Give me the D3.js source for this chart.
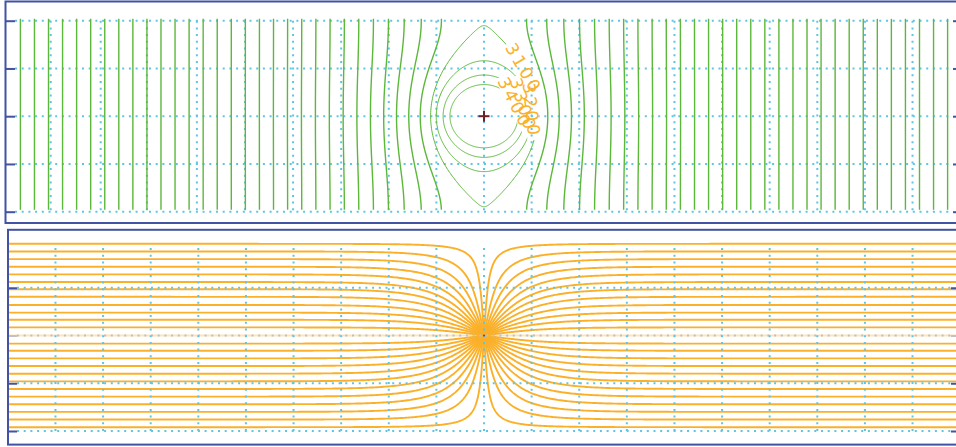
<!DOCTYPE html>
<html>
<head>
<meta charset="utf-8">
<script src="https://cdn.jsdelivr.net/npm/d3@7"></script>
<style>
  body { margin: 0; background: #fff; }
  svg { display: block; }
</style>
</head>
<body>
<svg id="chart"></svg>
<script>
'use strict';

const WIDTH = 956;
const HEIGHT = 447;

// plan view: cell lines (model units, well at 0,0)
const PLAN_ROWS = [-2, -1, 0, 1, 2];
const PLAN_COLS = [-9.1, -8.05, -7.08, -6.03, -5.02, -4.01, -3, -2, -1, 0, 1, 2, 3, 4, 5, 6, 7, 8, 9];

// cross section: layer bottoms and columns
const SECT_LAYERS = [1, 2, 3, 4];
const SECT_COLS = [-9, -8, -7, -6, -5, -4, -3, -2, -1, 0, 1, 2, 3, 4, 5, 6, 7, 8, 9];

// head contour levels (plan view) and the labelled ones
const HEAD_LEVELS = [100, 200, 300, 400, 500, 600, 700, 800, 900, 1000,
  1100, 1200, 1300, 1400, 1500, 1600, 1700, 1800, 1900, 2000,
  2100, 2200, 2300, 2400, 2500, 2600, 2700, 2800, 2900, 3000,
  3100, 3200, 3300, 3400];
const LABEL_LEVELS = [3100, 3200, 3300, 3400];
const LABEL_Y = [1.0, 0.12, 0.24, 0.28];

// depth at which each pathline enters at the model edge
const PATH_DEPTHS = [0.08, 0.24, 0.40, 0.56, 0.72, 0.88, 1.03, 1.19, 1.36, 1.52, 1.67, 1.83,
  2.17, 2.32, 2.48, 2.64, 2.80, 2.96, 3.12, 3.28, 3.44, 3.60, 3.76, 3.92];
const CENTER_PATH_DEPTH = 2;

const WELL = { x: 0, y: 0, depth: 2 };

// fitted head field: h = HEAD_REF - HEAD_STEP * ln|sinh(pi z / 2b)|
const PLAN_HALF = 2;
const SECT_HALF = 2;
const HEAD_REF = 3098.6;
const HEAD_STEP = 431.2;
const OVAL_STRETCH = 0.23;   // closed contours read a little wider than tall

const BLUE = '#4153a2';
const GRID = '#5ec6e4';
const GREEN = '#5cb83a';
const ORANGE = '#fbb02a';

const svg = d3.select('#chart')
  .attr('width', WIDTH)
  .attr('height', HEIGHT)
  .attr('viewBox', `0 0 ${WIDTH} ${HEIGHT}`);

const x = d3.scaleLinear().domain([-9.85, 9.85]).range([15, 953]);
const yPlan = d3.scaleLinear().domain([-2, 2]).range([211.7, 20.7]);
const ySect = d3.scaleLinear().domain([0, 4]).range([240, 431]);

const line = d3.line();

function levelC(level) {
  return Math.exp(2 * (HEAD_REF - level) / HEAD_STEP);
}

function planX(level, yy) {
  const k = Math.PI / (2 * PLAN_HALF);
  const c = levelC(level);
  const u = Math.asinh(Math.sqrt(Math.max(0, c - Math.sin(k * yy) ** 2))) / k;
  return c < 1 ? u * (1 + OVAL_STRETCH * (1 - c)) : u;
}

function headContour(level) {
  const k = Math.PI / (2 * PLAN_HALF);
  const c = levelC(level);
  if (c >= 1) {
    const ys = d3.range(-1.96, 2.041, 0.04);
    return [
      ys.map(yy => [planX(level, yy), yy]),
      ys.map(yy => [-planX(level, yy), yy]),
    ];
  }
  const vMax = Math.asin(Math.sqrt(c)) / k;
  const ts = d3.range(0, 161).map(i => -Math.PI / 2 + Math.PI * i / 160);
  const right = ts.map(t => {
    const yy = vMax * Math.sin(t);
    return [planX(level, yy), yy];
  });
  const left = right.slice().reverse().map(([a, b]) => [-a, b]);
  return [right.concat(left)];
}

function pathline(depth) {
  const k = Math.PI / (2 * SECT_HALF);
  const tanT = Math.tan(k * (WELL.depth - depth));
  return d3.range(-1, 1.0001, 0.004).map(t => {
    const xx = 10.2 * t * t * t;
    const off = Math.atan(Math.tanh(k * Math.abs(xx)) * tanT) / k;
    return [xx, WELL.depth - off];
  });
}

const defs = svg.append('defs');
defs.append('clipPath').attr('id', 'clip-plan')
  .append('rect').attr('x', 6.5).attr('y', 2.5).attr('width', 960).attr('height', 219.5);
defs.append('clipPath').attr('id', 'clip-sect')
  .append('rect').attr('x', 9).attr('y', 230.5).attr('width', 960).attr('height', 213);
const mask = defs.append('mask').attr('id', 'label-gaps')
  .attr('maskUnits', 'userSpaceOnUse')
  .attr('x', 0).attr('y', 0).attr('width', WIDTH).attr('height', HEIGHT);
mask.append('rect').attr('width', WIDTH).attr('height', HEIGHT).attr('fill', '#fff');

// ---------- plan view ----------
const plan = svg.append('g').attr('class', 'plan');

const planGrid = plan.append('g')
  .attr('stroke', GRID).attr('stroke-width', 2).attr('stroke-dasharray', '2,4.7').attr('fill', 'none');
PLAN_ROWS.forEach(r => {
  planGrid.append('line')
    .attr('x1', x.range()[0]).attr('x2', x.range()[1])
    .attr('y1', yPlan(r)).attr('y2', yPlan(r));
});
PLAN_COLS.forEach(cx => {
  planGrid.append('line')
    .attr('x1', x(cx)).attr('x2', x(cx))
    .attr('y1', yPlan(2)).attr('y2', yPlan(-2));
});

const contourG = plan.append('g')
  .attr('clip-path', 'url(#clip-plan)')
  .append('g')
  .attr('mask', 'url(#label-gaps)')
  .attr('fill', 'none').attr('stroke', GREEN);

HEAD_LEVELS.forEach(level => {
  headContour(level).forEach(pts => {
    contourG.append('path')
      .attr('d', line(pts.map(([a, b]) => [x(a), yPlan(b)])))
      .attr('stroke-width', levelC(level) < 1 ? 1 : 1.4);
  });
});

const labelG = plan.append('g')
  .attr('font-family', 'DejaVu Sans, sans-serif')
  .attr('font-size', 17)
  .attr('letter-spacing', '3px')
  .attr('fill', ORANGE);

LABEL_LEVELS.forEach((level, i) => {
  const yy = LABEL_Y[i];
  const px = x(planX(level, yy));
  const py = yPlan(yy);
  const a = [x(planX(level, yy + 0.03)), yPlan(yy + 0.03)];
  const b = [x(planX(level, yy - 0.03)), yPlan(yy - 0.03)];
  const angle = Math.atan2(b[1] - a[1], b[0] - a[0]) * 180 / Math.PI;
  const t = labelG.append('text')
    .attr('text-anchor', 'middle')
    .attr('dominant-baseline', 'central')
    .attr('transform', `translate(${px},${py}) rotate(${angle})`)
    .text(level);
  const len = t.node().getComputedTextLength();
  mask.append('rect')
    .attr('x', -len / 2 - 2).attr('y', -7)
    .attr('width', len + 4).attr('height', 14)
    .attr('fill', '#000')
    .attr('transform', `translate(${px},${py}) rotate(${angle})`);
});

// well marker
const wx = x(WELL.x), wy = yPlan(WELL.y);
plan.append('g').attr('stroke', '#6e1f2a').attr('stroke-width', 2)
  .call(g => {
    g.append('line').attr('x1', wx - 5.5).attr('x2', wx + 5.5).attr('y1', wy).attr('y2', wy);
    g.append('line').attr('x1', wx).attr('x2', wx).attr('y1', wy - 5.5).attr('y2', wy + 5.5);
  });

plan.append('g').attr('transform', `translate(${x.range()[0]},0)`)
  .call(d3.axisLeft(yPlan).tickValues(PLAN_ROWS).tickSize(9).tickFormat(''))
  .call(g => g.select('.domain').remove())
  .call(g => g.selectAll('line').attr('stroke', BLUE).attr('stroke-width', 2));
plan.append('g').attr('transform', `translate(${x.range()[1]},0)`)
  .call(d3.axisRight(yPlan).tickValues(PLAN_ROWS).tickSize(9).tickFormat(''))
  .call(g => g.select('.domain').remove())
  .call(g => g.selectAll('line').attr('stroke', BLUE).attr('stroke-width', 2));

plan.append('rect')
  .attr('x', 5.5).attr('y', 1.5).attr('width', 980).attr('height', 221.5)
  .attr('fill', 'none').attr('stroke', BLUE).attr('stroke-width', 2);

// ---------- cross section ----------
const sect = svg.append('g').attr('class', 'section');
const xs = d3.scaleLinear().domain(x.domain()).range([x.range()[0] + 2, x.range()[1] - 2]);

const sectLines = sect.append('g').attr('clip-path', 'url(#clip-sect)')
  .attr('fill', 'none').attr('stroke', ORANGE).attr('stroke-width', 1.9);

sectLines.append('path')
  .attr('d', line([[-10.2, CENTER_PATH_DEPTH], [10.2, CENTER_PATH_DEPTH]].map(([a, b]) => [x(a), ySect(b)])))
  .attr('stroke-opacity', 0.35);

PATH_DEPTHS.forEach(d => {
  sectLines.append('path')
    .attr('d', line(pathline(d).map(([a, b]) => [x(a), ySect(b)])));
});

const sectGrid = sect.append('g')
  .attr('stroke', GRID).attr('stroke-width', 2).attr('stroke-dasharray', '2,4.7').attr('fill', 'none');
SECT_LAYERS.forEach(l => {
  sectGrid.append('line')
    .attr('x1', xs.range()[0]).attr('x2', xs.range()[1])
    .attr('y1', ySect(l)).attr('y2', ySect(l))
    .attr('stroke', l === WELL.depth ? '#b9c3c6' : GRID);
});
SECT_COLS.forEach(cx => {
  sectGrid.append('line')
    .attr('x1', x(cx)).attr('x2', x(cx))
    .attr('y1', ySect(0.17)).attr('y2', ySect(4));
});

sect.append('circle')
  .attr('cx', x(WELL.x)).attr('cy', ySect(WELL.depth)).attr('r', 0.9)
  .attr('fill', '#8a2a2a');

sect.append('g').attr('transform', `translate(${xs.range()[0]},0)`)
  .call(d3.axisLeft(ySect).tickValues(SECT_LAYERS).tickSize(9).tickFormat(''))
  .call(g => g.select('.domain').remove())
  .call(g => g.selectAll('line').attr('stroke', d => d === WELL.depth ? '#c2c2c2' : BLUE).attr('stroke-width', 2));
sect.append('g').attr('transform', `translate(${xs.range()[1]},0)`)
  .call(d3.axisRight(ySect).tickValues(SECT_LAYERS).tickSize(9).tickFormat(''))
  .call(g => g.select('.domain').remove())
  .call(g => g.selectAll('line').attr('stroke', d => d === WELL.depth ? '#c2c2c2' : BLUE).attr('stroke-width', 2));

sect.append('rect')
  .attr('x', 8).attr('y', 229.8).attr('width', 980).attr('height', 214.8)
  .attr('fill', 'none').attr('stroke', BLUE).attr('stroke-width', 2);
</script>
</body>
</html>
